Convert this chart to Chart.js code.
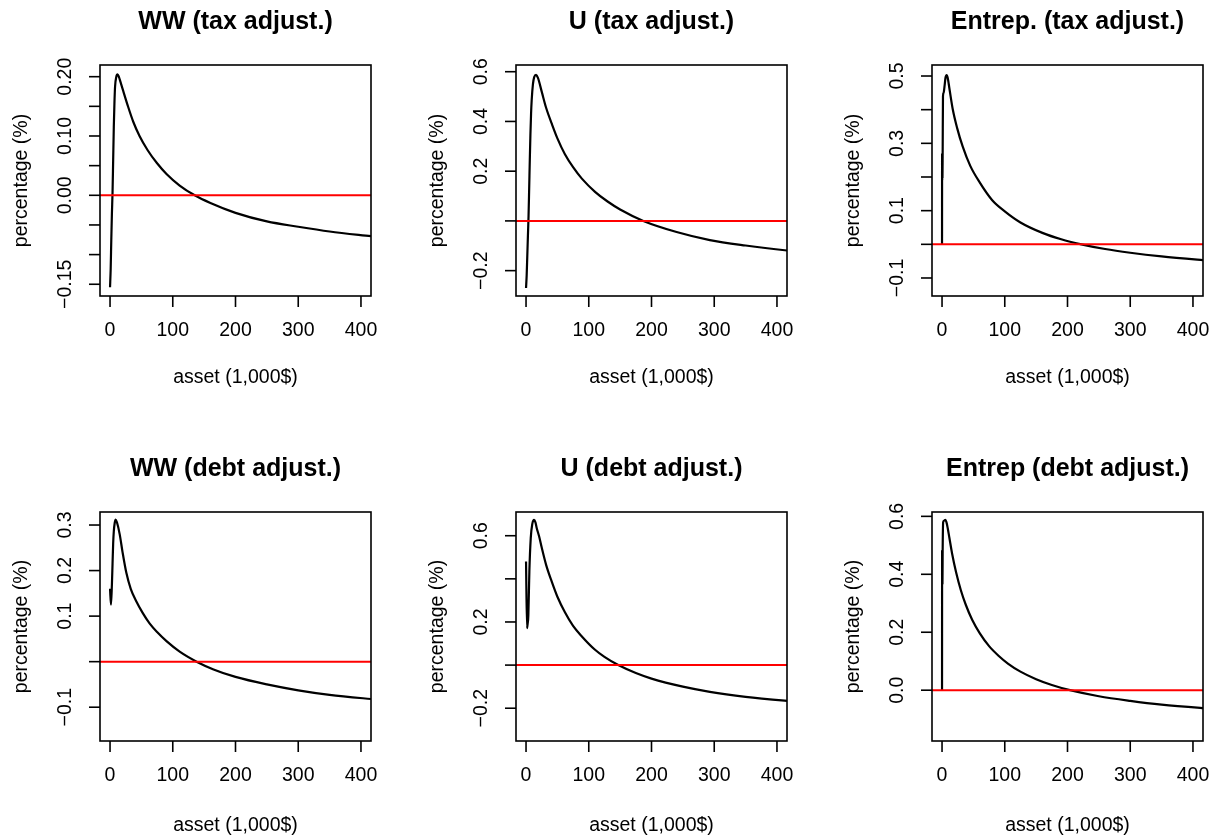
<!DOCTYPE html>
<html>
<head>
<meta charset="utf-8">
<title>Percentage change by asset</title>
<script src="https://cdn.jsdelivr.net/npm/chart.js@4.4.0/dist/chart.umd.min.js"></script>
<style>
    html, body { margin: 0; padding: 0; background: #fff; }
    #wrap { position: relative; width: 1214px; height: 837px; overflow: hidden; background: #fff; }
    #wrap canvas { position: absolute; }
</style>
</head>
<body>
<div id="wrap"></div>
<script>
// --- DATA ---
const xTicks = [0, 100, 200, 300, 400];
const xRange = [-16, 416];
const refLevel = 0; // red horizontal line

// WW (tax adjust.)
const wwTaxX = [0, 1, 2, 3, 4, 5, 6, 7, 8, 10, 12, 14, 17, 21, 28, 37, 47, 60, 75, 90, 111, 135, 160, 200, 250, 300, 350, 416, 450];
const wwTaxY = [-0.155, -0.125, -0.075, -0.03, 0.005, 0.06, 0.115, 0.155, 0.183, 0.200, 0.204, 0.200, 0.190, 0.176, 0.152, 0.124, 0.100, 0.076, 0.054, 0.036, 0.0165, 0, -0.0130, -0.0296, -0.044, -0.053, -0.061, -0.069, -0.073];
const wwTaxTicks = [-0.15, -0.10, -0.05, 0, 0.05, 0.10, 0.15, 0.20];
const wwTaxLabels = ['\u22120.15', '', '', '0.00', '', '0.10', '', '0.20'];

// U (tax adjust.)
const uTaxX = [0, 1, 2, 3, 4, 5, 6, 7, 8, 9, 11, 13, 16, 19, 25, 32, 41, 50, 62, 75, 89, 110, 130, 150, 187, 240, 293, 350, 416, 450];
const uTaxY = [-0.27, -0.22, -0.14, -0.06, 0.02, 0.13, 0.245, 0.35, 0.43, 0.485, 0.55, 0.578, 0.587, 0.575, 0.52, 0.455, 0.391, 0.332, 0.268, 0.216, 0.170, 0.117, 0.078, 0.046, 0, -0.0445, -0.077, -0.099, -0.119, -0.127];
const uTaxTicks = [-0.2, 0, 0.2, 0.4, 0.6];
const uTaxLabels = ['\u22120.2', '', '0.2', '0.4', '0.6'];

// Entrep. (tax adjust.)
const enTaxX = [0, 0.1, 0.3, 0.5, 0.7, 1.0, 1.5, 2.5, 4, 5.5, 7.4, 9, 12, 17, 24, 33, 45, 60, 80, 100, 125, 160, 190, 222, 260, 300, 350, 416, 450];
const enTaxY = [0, 0.27, 0.19, 0.26, 0.20, 0.27, 0.44, 0.45, 0.47, 0.495, 0.503, 0.495, 0.46, 0.402, 0.346, 0.290, 0.233, 0.184, 0.131, 0.098, 0.065, 0.034, 0.015, 0, -0.014, -0.025, -0.036, -0.047, -0.052];
const enTaxTicks = [-0.1, 0, 0.1, 0.2, 0.3, 0.4, 0.5];
const enTaxLabels = ['\u22120.1', '', '0.1', '', '0.3', '', '0.5'];

// WW (debt adjust.)
const wwDebtX = [0, 1.5, 3, 4, 5, 6, 7.5, 9, 11, 15.5, 20, 26, 33, 42, 52, 63, 75, 90, 111, 138, 165, 200, 250, 300, 350, 416, 450];
const wwDebtY = [0.16, 0.125, 0.17, 0.215, 0.26, 0.286, 0.305, 0.312, 0.306, 0.279, 0.240, 0.195, 0.160, 0.132, 0.107, 0.084, 0.065, 0.045, 0.022, 0, -0.017, -0.0335, -0.050, -0.063, -0.073, -0.082, -0.086];
const wwDebtTicks = [-0.1, 0, 0.1, 0.2, 0.3];
const wwDebtLabels = ['\u22120.1', '', '0.1', '0.2', '0.3'];

// U (debt adjust.)
const uDebtX = [0, 1.6, 2.5, 3.7, 5.3, 7.5, 10, 12.8, 15, 17, 21, 25, 32, 41, 50, 62, 75, 89, 110, 125, 147, 175, 200, 250, 293, 350, 416, 450];
const uDebtY = [0.48, 0.171, 0.19, 0.233, 0.434, 0.589, 0.655, 0.674, 0.662, 0.636, 0.595, 0.545, 0.465, 0.387, 0.317, 0.245, 0.182, 0.133, 0.071, 0.038, 0, -0.037, -0.0627, -0.100, -0.124, -0.147, -0.166, -0.174];
const uDebtTicks = [-0.2, 0, 0.2, 0.4, 0.6];
const uDebtLabels = ['\u22120.2', '', '0.2', '', '0.6'];

// Entrep (debt adjust.)
const enDebtX = [0, 0.1, 0.3, 0.5, 0.7, 1.0, 1.8, 3, 5.3, 7, 9, 11.7, 16, 22.4, 30, 38, 48, 60, 75, 90, 105, 125, 150, 175, 204, 250, 300, 350, 416, 450];
const enDebtY = [0, 0.479, 0.363, 0.47, 0.37, 0.48, 0.58, 0.585, 0.588, 0.58, 0.56, 0.526, 0.472, 0.407, 0.345, 0.294, 0.243, 0.197, 0.152, 0.119, 0.092, 0.064, 0.038, 0.018, 0, -0.021, -0.037, -0.050, -0.062, -0.067];
const enDebtTicks = [0, 0.2, 0.4, 0.6];
const enDebtLabels = ['0.0', '0.2', '0.4', '0.6'];

const FONT = '"Liberation Sans", Arial, Helvetica, sans-serif';
const CANVAS_W = 410, CANVAS_H = 420, PAD_L = 100, PAD_T = 65;

const panels = [
    { title: 'WW (tax adjust.)',      x: wwTaxX,  y: wwTaxY,  ticks: wwTaxTicks,  labels: wwTaxLabels,  yMin: -0.1698, yMax: 0.2197, box: [100, 65, 271, 231], xlabGap: 82 },
    { title: 'U (tax adjust.)',       x: uTaxX,   y: uTaxY,   ticks: uTaxTicks,   labels: uTaxLabels,   yMin: -0.302,  yMax: 0.627,  box: [516, 65, 271, 231], xlabGap: 82 },
    { title: 'Entrep. (tax adjust.)', x: enTaxX,  y: enTaxY,  ticks: enTaxTicks,  labels: enTaxLabels,  yMin: -0.1535, yMax: 0.5327, box: [932, 65, 271, 231], xlabGap: 82 },
    { title: 'WW (debt adjust.)',     x: wwDebtX, y: wwDebtY, ticks: wwDebtTicks, labels: wwDebtLabels, yMin: -0.1742, yMax: 0.3286, box: [100, 512, 271, 229], xlabGap: 85 },
    { title: 'U (debt adjust.)',      x: uDebtX,  y: uDebtY,  ticks: uDebtTicks,  labels: uDebtLabels,  yMin: -0.352,  yMax: 0.710,  box: [516, 512, 271, 229], xlabGap: 85 },
    { title: 'Entrep (debt adjust.)', x: enDebtX, y: enDebtY, ticks: enDebtTicks, labels: enDebtLabels, yMin: -0.1754, yMax: 0.615,  box: [932, 512, 271, 229], xlabGap: 85 }
];

// Draws R-style box, ticks, labels and titles using the chart's own scales
const rAxesPlugin = {
    id: 'rAxes',
    afterDraw(chart, args, opts) {
        const { ctx, chartArea: a, scales } = chart;
        const cx = (a.left + a.right) / 2, cy = (a.top + a.bottom) / 2;
        ctx.save();
        ctx.strokeStyle = '#000';
        ctx.fillStyle = '#000';
        ctx.lineWidth = 1.6;
        ctx.strokeRect(a.left, a.top, a.right - a.left, a.bottom - a.top);

        // x axis
        ctx.font = `19.5px ${FONT}`;
        ctx.textAlign = 'center';
        ctx.textBaseline = 'middle';
        xTicks.forEach(v => {
            const px = scales.x.getPixelForValue(v);
            ctx.beginPath();
            ctx.moveTo(px, a.bottom);
            ctx.lineTo(px, a.bottom + 11);
            ctx.stroke();
            ctx.fillText(String(v), px, a.bottom + 35);
        });
        ctx.fillText('asset (1,000$)', cx, a.bottom + opts.xlabGap);

        // y axis
        opts.ticks.forEach((v, i) => {
            const py = scales.y.getPixelForValue(v);
            ctx.beginPath();
            ctx.moveTo(a.left - 11, py);
            ctx.lineTo(a.left, py);
            ctx.stroke();
            if (opts.labels[i]) {
                ctx.save();
                ctx.translate(a.left - 34, py);
                ctx.rotate(-Math.PI / 2);
                ctx.fillText(opts.labels[i], 0, 0);
                ctx.restore();
            }
        });
        ctx.save();
        ctx.translate(a.left - 78, cy);
        ctx.rotate(-Math.PI / 2);
        ctx.fillText('percentage (%)', 0, 0);
        ctx.restore();

        // title
        ctx.font = `bold 25px ${FONT}`;
        ctx.fillText(opts.title, cx, a.top - 43);
        ctx.restore();
    }
};

const wrap = document.getElementById('wrap');

panels.forEach(p => {
    const [bl, bt, bw, bh] = p.box;
    const canvas = document.createElement('canvas');
    canvas.width = CANVAS_W;
    canvas.height = CANVAS_H;
    canvas.style.left = (bl - PAD_L) + 'px';
    canvas.style.top = (bt - PAD_T) + 'px';
    canvas.style.width = CANVAS_W + 'px';
    canvas.style.height = CANVAS_H + 'px';
    wrap.appendChild(canvas);

    const curve = p.x.map((v, i) => ({ x: v, y: p.y[i] }));
    const zeroLine = [{ x: -100, y: refLevel }, { x: 600, y: refLevel }];

    new Chart(canvas, {
        type: 'scatter',
        data: {
            datasets: [
                { data: zeroLine, showLine: true, borderColor: '#ff0000', borderWidth: 2, pointRadius: 0, clip: 0 },
                { data: curve, showLine: true, borderColor: '#000000', borderWidth: 2.2, pointRadius: 0,
                  cubicInterpolationMode: 'monotone', clip: 0 }
            ]
        },
        options: {
            responsive: false,
            animation: false,
            devicePixelRatio: 1,
            layout: { padding: { left: PAD_L, top: PAD_T, right: CANVAS_W - PAD_L - bw, bottom: CANVAS_H - PAD_T - bh } },
            scales: {
                x: { type: 'linear', min: xRange[0], max: xRange[1], display: false },
                y: { type: 'linear', min: p.yMin, max: p.yMax, display: false }
            },
            plugins: {
                legend: { display: false },
                tooltip: { enabled: false },
                rAxes: { ticks: p.ticks, labels: p.labels, title: p.title, xlabGap: p.xlabGap }
            }
        },
        plugins: [rAxesPlugin]
    });
});
</script>
</body>
</html>
